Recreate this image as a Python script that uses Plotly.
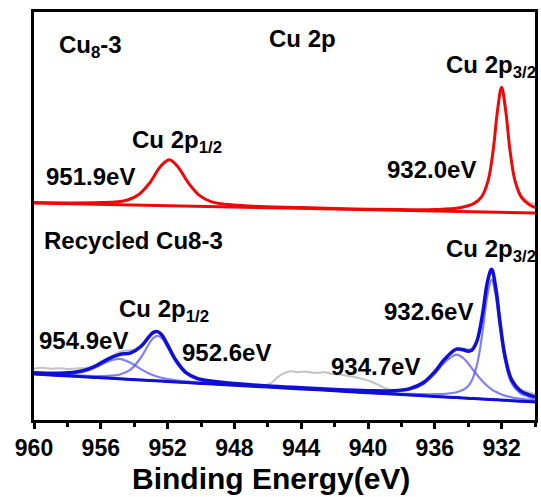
import plotly.graph_objects as go

# ---------------- data ----------------
# x axis: binding energy (eV); y: arbitrary intensity (stacked spectra)
tick_vals = [960, 956, 952, 948, 944, 940, 936, 932]
tick_text = ["960", "956", "952", "948", "944", "940", "936", "932"]
x_title = "Binding Energy(eV)"

# --- Cu8-3 (top, red) ---
E_top = [960, 958, 956, 955, 954.4, 953.7, 953.1, 952.4, 951.9, 951.4, 950.75,
         950.1, 949.4, 948.4, 946.9, 944, 941, 938, 936, 934.5, 933.65, 933.2,
         932.8, 932.5, 932.25, 932.0, 931.75, 931.5, 931.2, 930.8, 930.35, 930]
top_envelope = [217.5, 217.1, 217.4, 218.2, 220.0, 225.8, 236.5, 254.0, 260.3,
                253.6, 236.9, 224.6, 218.4, 215.4, 213.8, 212.4, 211.0, 210.4,
                210.5, 212.3, 216.6, 223.1, 239.9, 270.3, 308.8, 332.7, 308.6,
                270.0, 239.4, 222.3, 215.5, 212.5]
E_top_base = [960, 945, 930]
top_baseline = [217.0, 212.0, 207.0]
E_top_raw = [931.5, 931.2, 930.8, 930.4, 930.0]
top_raw = [270.5, 240.5, 224.5, 218.5, 216.0]

# --- Recycled Cu8-3 (bottom, blue) ---
E_bot = [960, 958.5, 957.5, 956.8, 956.2, 955.6, 954.9, 954.2, 953.6, 953.1,
         952.85, 952.6, 952.35, 952.0, 951.5, 950.9, 950.2, 949.3, 948.0, 946.0,
         944.0, 942.0, 940.0, 938.5, 937.5, 936.7, 936.0, 935.4, 934.7, 934.3,
         934.0, 933.8, 933.5, 933.3, 933.1, 932.85, 932.6, 932.35, 932.1, 931.8,
         931.4, 930.9, 930.4, 930.0]
bot_baseline = [46.0, 44.6, 43.7, 43.0, 42.4, 41.9, 41.2, 40.6, 40.0, 39.6,
                39.3, 39.1, 38.9, 38.5, 38.1, 37.5, 36.8, 36.0, 34.8, 32.9,
                31.1, 29.2, 27.3, 25.9, 25.0, 24.3, 23.6, 23.0, 22.4, 22.0,
                21.7, 21.5, 21.3, 21.1, 20.9, 20.7, 20.4, 20.2, 20.0, 19.7,
                19.3, 18.8, 18.4, 18.0]
comp_952_6 = [46.4, 45.2, 44.6, 44.2, 44.0, 44.2, 45.3, 50.7, 62.5, 76.5,
              82.1, 84.1, 81.7, 72.6, 58.0, 46.3, 40.5, 37.9, 35.8, 33.4,
              31.4, 29.4, 27.4, 26.0, 25.1, 24.3, 23.6, 23.0, 22.4, 22.0,
              21.7, 21.5, 21.3, 21.1, 20.9, 20.7, 20.4, 20.2, 20.0, 19.7,
              19.3, 18.8, 18.4, 18.0]
comp_954_9 = [46.7, 46.0, 46.9, 49.3, 53.3, 58.3, 61.2, 57.0, 50.9, 46.5,
              44.7, 43.3, 42.2, 40.9, 39.7, 38.6, 37.6, 36.6, 35.2, 33.1,
              31.3, 29.3, 27.4, 25.9, 25.0, 24.3, 23.6, 23.0, 22.4, 22.0,
              21.7, 21.5, 21.3, 21.1, 20.9, 20.7, 20.4, 20.2, 20.0, 19.7,
              19.3, 18.8, 18.4, 18.0]
comp_932_6 = [46.0, 44.6, 43.7, 43.0, 42.4, 41.9, 41.2, 40.6, 40.0, 39.6,
              39.3, 39.1, 38.9, 38.5, 38.1, 37.5, 36.8, 36.1, 34.9, 33.0,
              31.3, 29.5, 27.8, 26.6, 26.1, 25.8, 25.8, 26.2, 27.8, 30.2,
              34.0, 38.9, 53.5, 70.3, 93.1, 124.6, 140.4, 124.1, 92.2, 59.7,
              36.7, 27.0, 23.4, 21.6]
comp_934_7 = [46.1, 44.7, 43.8, 43.1, 42.5, 42.0, 41.3, 40.7, 40.1, 39.7,
              39.4, 39.2, 39.0, 38.6, 38.2, 37.6, 36.9, 36.2, 35.0, 33.2,
              31.5, 29.9, 28.6, 28.4, 30.2, 35.7, 46.1, 57.8, 65.4, 62.0,
              56.5, 52.2, 45.7, 41.7, 38.0, 34.0, 30.7, 28.2, 26.2, 24.4,
              22.7, 21.3, 20.3, 19.6]
bot_envelope = [47.2, 46.7, 47.9, 50.6, 55.0, 60.7, 65.4, 67.2, 73.5, 83.5,
                87.6, 88.4, 85.1, 75.1, 59.7, 47.5, 41.4, 38.8, 36.5, 34.0,
                32.2, 30.5, 29.3, 29.2, 31.4, 37.2, 48.3, 61.0, 70.8, 70.2,
                68.8, 69.6, 77.9, 90.9, 110.2, 137.9, 150.7, 132.1, 98.4, 64.4,
                40.1, 29.5, 25.3, 23.2]
E_bot_raw = [960, 959.5, 959.0, 958.5, 958.0, 957.5, 957.0, 956.5, 956.0, 955.5,
             955.0, 954.5, 954.0, 953.5, 953.0, 952.6, 952.2, 951.8, 951.3, 950.8,
             950.2, 949.3, 948.0, 947.0, 946.3, 945.8, 945.4, 945.0, 944.6, 944.2,
             943.8, 943.4, 943.0, 942.6, 942.2, 941.8, 941.4, 941.0, 940.6, 940.2,
             939.8, 939.4, 939.0, 938.6, 938.2, 937.5, 936.7, 936.0, 935.4, 934.7,
             934.3, 933.8, 933.5, 933.1, 932.85, 932.6, 932.35, 932.1, 931.8, 931.4,
             930.9, 930.4, 930.0]
bot_raw = [51.5, 52.2, 51.2, 51.8, 51.0, 51.6, 51.8, 53.5, 57.5, 62.5,
           67.0, 69.5, 70.5, 76.0, 85.5, 88.0, 81.0, 70.0, 55.0, 46.5,
           41.8, 39.0, 36.8, 35.3, 34.5, 37.0, 43.0, 47.0, 48.8, 47.8,
           48.6, 47.4, 47.2, 47.8, 46.2, 45.8, 44.8, 43.6, 42.3, 40.4,
           38.2, 35.3, 32.0, 30.0, 29.6, 31.8, 37.6, 48.8, 61.8, 71.6,
           71.4, 71.2, 78.4, 110.0, 137.0, 149.5, 131.5, 98.5, 65.0, 41.5,
           31.5, 27.8, 26.0]

# ---------------- styles ----------------
FONT = "Arial, Liberation Sans, sans-serif"
RED = "rgb(238,8,8)"
BLUE = "rgb(15,15,215)"
BLUE_LIGHT = "rgba(85,85,235,0.75)"
GRAY = "rgb(195,195,195)"

fig = go.Figure()

def add_line(x, y, color, width):
    fig.add_trace(go.Scatter(x=x, y=y, mode="lines",
                             line=dict(color=color, width=width, shape="spline"),
                             showlegend=False, hoverinfo="skip"))

# top spectrum
add_line(E_top_raw, top_raw, GRAY, 2)
add_line(E_top_base, top_baseline, RED, 3)
add_line(E_top, top_envelope, RED, 3)

# bottom spectrum
add_line(E_bot_raw, bot_raw, GRAY, 2)
for comp in (comp_954_9, comp_952_6, comp_934_7, comp_932_6):
    add_line(E_bot, comp, BLUE_LIGHT, 2.2)
add_line(E_bot, bot_baseline, BLUE, 3)
add_line(E_bot, bot_envelope, BLUE, 3.5)

# ---------------- annotations ----------------
L, T, W, H = 34, 12, 504, 408  # plot area in px

def px(xp, yp):
    return (xp - L) / W, (T + H - yp) / H

labels = [
    ("Cu<sub>8</sub>-3", 57, 46),
    ("Cu 2p", 268, 39),
    ("Cu 2p<sub>3/2</sub>", 446, 67),
    ("Cu 2p<sub>1/2</sub>", 131, 141),
    ("951.9eV", 44, 176),
    ("932.0eV", 387, 170),
    ("Recycled Cu8-3", 42, 240),
    ("Cu 2p<sub>1/2</sub>", 117, 310),
    ("954.9eV", 37, 340),
    ("952.6eV", 181, 352),
    ("934.7eV", 331, 366),
    ("932.6eV", 384, 311),
    ("Cu 2p<sub>3/2</sub>", 446, 251),
]
for text, xp, yp in labels:
    ax, ay = px(xp, yp)
    fig.add_annotation(x=ax, y=ay, xref="paper", yref="paper", text="<b>" + text + "</b>",
                       showarrow=False, xanchor="left", yanchor="middle",
                       font=dict(family=FONT, size=24, color="black"))

# x-axis title placed as annotation
tx, ty = px(272, 478)
fig.add_annotation(x=tx, y=ty, xref="paper", yref="paper", text="<b>" + x_title + "</b>",
                   showarrow=False, xanchor="center", yanchor="middle",
                   font=dict(family=FONT, size=30, color="black"))

fig.update_layout(
    width=541, height=497,
    margin=dict(l=L, r=541 - L - W, t=T, b=497 - T - H),
    paper_bgcolor="white", plot_bgcolor="white",
    font=dict(family=FONT, color="black"),
)
fig.update_xaxes(
    range=[960, 930], autorange=False,
    tickmode="array", tickvals=tick_vals,
    ticktext=["<b>" + t + "</b>" for t in tick_text],
    ticks="outside", ticklen=6, tickwidth=2.5, tickcolor="black",
    minor=dict(dtick=2, tick0=960, ticks="outside", ticklen=4, tickwidth=2.5, tickcolor="black"),
    showline=True, linewidth=2.5, linecolor="black", mirror=True,
    showgrid=False, zeroline=False,
    tickfont=dict(family=FONT, size=23, color="black"),
)
fig.update_yaxes(
    range=[0, H], autorange=False,
    showline=True, linewidth=2.5, linecolor="black", mirror=True,
    showticklabels=False, ticks="", showgrid=False, zeroline=False,
)

fig.write_html("out.html")
